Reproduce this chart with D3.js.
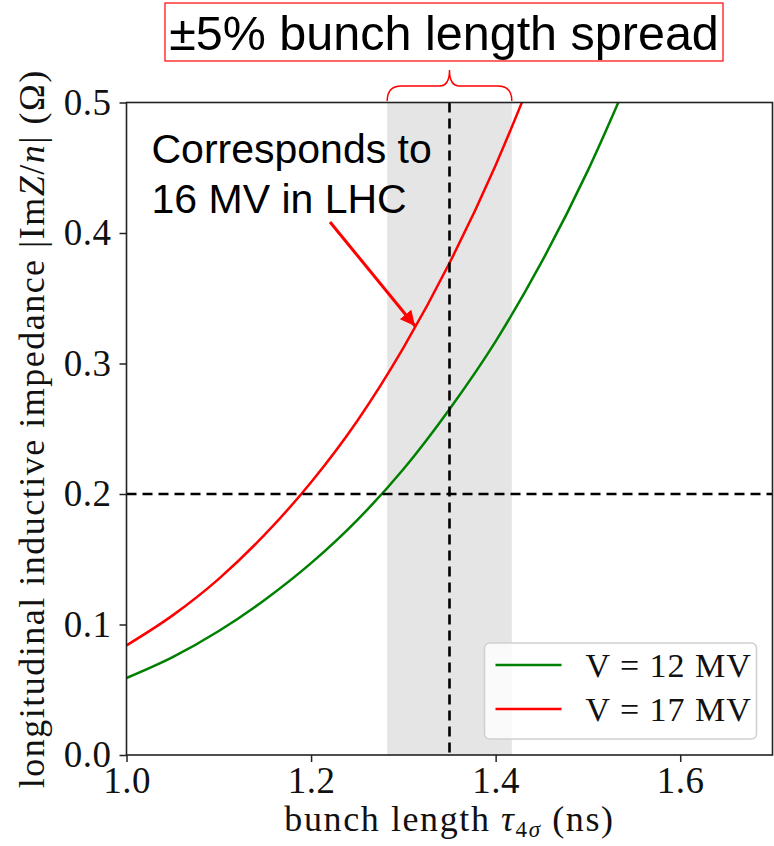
<!DOCTYPE html>
<html>
<head>
<meta charset="utf-8">
<script src="https://cdn.jsdelivr.net/npm/d3@7"></script>
<style>
  body { margin: 0; background: #fff; }
</style>
</head>
<body>
<script>
// bunch length samples (ns) and impedance (Ohm)
var tau      = [1.00, 1.05, 1.10, 1.15, 1.20, 1.25, 1.30, 1.35, 1.40, 1.45, 1.50, 1.55];
var imp12MV  = [0.059, 0.075, 0.095, 0.119, 0.147, 0.180, 0.219, 0.265, 0.317, 0.378, 0.448, 0.528];
var imp17MV  = [0.084, 0.107, 0.135, 0.169, 0.209, 0.256, 0.312, 0.377, 0.452, 0.538, null, null];
var seriesNames = ["V = 12 MV", "V = 17 MV"];
var seriesColors = ["#008000", "#ff0000"];
var xTicks = [1.0, 1.2, 1.4, 1.6];
var yTicks = [0.0, 0.1, 0.2, 0.3, 0.4, 0.5];
var nominalTau = 1.35, spread = 0.05, impLimit = 0.2;

var SERIF = "Liberation Serif", SANS = "Liberation Sans";

var W = 774, H = 846;
var margin = {top: 102.5, right: 1.5, bottom: 91, left: 126.5},
    width = W - margin.left - margin.right,
    height = H - margin.top - margin.bottom;

var x = d3.scaleLinear().domain([1.0, 1.7]).range([0, width]);
var y = d3.scaleLinear().domain([0, 0.5]).range([height, 0]);

var root = d3.select("body").append("svg")
    .attr("width", W)
    .attr("height", H)
    .attr("font-family", SERIF);

var svg = root.append("g")
    .attr("transform", "translate(" + margin.left + "," + margin.top + ")");

svg.append("clipPath").attr("id", "plotclip")
  .append("rect").attr("width", width).attr("height", height);

// +-5% band
svg.append("rect")
    .attr("x", x(nominalTau * (1 - spread)))
    .attr("width", x(nominalTau * (1 + spread)) - x(nominalTau * (1 - spread)))
    .attr("y", 0)
    .attr("height", height)
    .attr("fill", "#e5e5e5");

var line = d3.line()
    .defined(function(d) { return d[1] != null; })
    .x(function(d) { return x(d[0]); })
    .y(function(d) { return y(d[1]); })
    .curve(d3.curveMonotoneX);

[imp12MV, imp17MV].forEach(function(vals, i) {
  svg.append("path")
      .datum(tau.map(function(t, j) { return [t, vals[j]]; }))
      .attr("clip-path", "url(#plotclip)")
      .attr("fill", "none")
      .attr("stroke", seriesColors[i])
      .attr("stroke-width", 2.5)
      .attr("d", line);
});

// dashed guides
svg.append("line")
    .attr("x1", 0).attr("x2", width)
    .attr("y1", y(impLimit)).attr("y2", y(impLimit))
    .attr("stroke", "#000").attr("stroke-width", 2.6)
    .attr("stroke-dasharray", "10,6");
svg.append("line")
    .attr("x1", x(nominalTau)).attr("x2", x(nominalTau))
    .attr("y1", 0).attr("y2", height)
    .attr("stroke", "#000").attr("stroke-width", 2.6)
    .attr("stroke-dasharray", "10,6");

// axes
var xAxis = svg.append("g")
    .attr("transform", "translate(0," + height + ")")
    .call(d3.axisBottom(x).tickValues(xTicks).tickSize(7).tickPadding(5)
          .tickFormat(d3.format(".1f")));
var yAxis = svg.append("g")
    .call(d3.axisLeft(y).tickValues(yTicks).tickSize(7).tickPadding(8)
          .tickFormat(d3.format(".1f")));
[xAxis, yAxis].forEach(function(a) {
  a.attr("font-family", SERIF);
  a.select(".domain").remove();
  a.selectAll("line").attr("stroke", "#222").attr("stroke-width", 1.5);
  a.selectAll("text")
      .attr("font-size", "37px").attr("letter-spacing", "0.5px").attr("fill", "#111");
});

svg.append("rect")
    .attr("width", width).attr("height", height)
    .attr("fill", "none").attr("stroke", "#222").attr("stroke-width", 1.6);

// axis titles
var xLab = svg.append("text")
    .attr("x", width / 2)
    .attr("y", height + 76)
    .attr("font-size", "36px")
    .attr("letter-spacing", "1.6px")
    .attr("text-anchor", "middle")
    .attr("fill", "#111");
xLab.append("tspan").text("bunch length ");
xLab.append("tspan").attr("font-style", "italic").text("τ");
xLab.append("tspan").attr("font-size", "23px").attr("dy", 6).text("4");
xLab.append("tspan").attr("font-size", "23px").attr("font-style", "italic").text("σ");
xLab.append("tspan").attr("dy", -6).text(" (ns)");

var yLab = svg.append("text")
    .attr("transform", "rotate(-90)")
    .attr("x", -height / 2)
    .attr("y", -margin.left + 44)
    .attr("font-size", "36px")
    .attr("letter-spacing", "1.5px")
    .attr("text-anchor", "middle")
    .attr("fill", "#111");
yLab.append("tspan").text("longitudinal inductive impedance |Im");
yLab.append("tspan").attr("font-style", "italic").text("Z");
yLab.append("tspan").text("/");
yLab.append("tspan").attr("font-style", "italic").text("n");
yLab.append("tspan").text("| (Ω)");

// legend
var leg = svg.append("g").attr("transform", "translate(" + (width - 288) + "," + (height - 112) + ")");
leg.append("rect")
    .attr("width", 272).attr("height", 96).attr("rx", 5)
    .attr("fill", "#fff").attr("fill-opacity", 0.8)
    .attr("stroke", "#d0d0d0").attr("stroke-width", 1.5);
seriesNames.forEach(function(name, i) {
  var ly = 22 + i * 44;
  leg.append("line")
      .attr("x1", 11).attr("x2", 77).attr("y1", ly).attr("y2", ly)
      .attr("stroke", seriesColors[i]).attr("stroke-width", 2.5);
  leg.append("text")
      .attr("x", 101).attr("y", ly + 12)
      .attr("font-size", "34px").attr("letter-spacing", "1px").attr("fill", "#111")
      .text(name);
});

// annotations (sans, like the slide overlay)
var note = svg.append("text")
    .attr("font-family", SANS)
    .attr("font-size", "41px")
    .attr("fill", "#000");
note.append("tspan").attr("x", 25).attr("y", 60).text("Corresponds to");
note.append("tspan").attr("x", 25).attr("y", 110).text("16 MV in LHC");

root.append("defs").append("marker")
    .attr("id", "arrowhead")
    .attr("viewBox", "0 0 10 10")
    .attr("refX", 10).attr("refY", 5)
    .attr("markerWidth", 5).attr("markerHeight", 5)
    .attr("orient", "auto")
  .append("path").attr("d", "M0,0 L10,5 L0,10 z").attr("fill", "#ff0000");

svg.append("line")
    .attr("x1", 330 - margin.left).attr("y1", 222 - margin.top)
    .attr("x2", 415 - margin.left).attr("y2", 326 - margin.top)
    .attr("stroke", "#ff0000").attr("stroke-width", 3)
    .attr("marker-end", "url(#arrowhead)");

// title box and brace above the band
root.append("rect")
    .attr("x", 165).attr("y", 3).attr("width", 558).attr("height", 58)
    .attr("fill", "none").attr("stroke", "#ff0000").attr("stroke-width", 1.2);
root.append("text")
    .attr("x", 444).attr("y", 50)
    .attr("text-anchor", "middle")
    .attr("font-family", SANS)
    .attr("font-size", "48.5px")
    .attr("fill", "#000")
    .text("±5% bunch length spread");

var bx0 = margin.left + x(nominalTau * (1 - spread)),
    bx1 = margin.left + x(nominalTau * (1 + spread)),
    bxm = margin.left + x(nominalTau);
var brace = d3.path();
brace.moveTo(bx0, 101);
brace.quadraticCurveTo(bx0, 86, bx0 + 14, 86);
brace.lineTo(bxm - 10, 86);
brace.quadraticCurveTo(bxm, 86, bxm, 70);
brace.quadraticCurveTo(bxm, 86, bxm + 10, 86);
brace.lineTo(bx1 - 14, 86);
brace.quadraticCurveTo(bx1, 86, bx1, 101);
root.append("path")
    .attr("d", brace.toString())
    .attr("fill", "none").attr("stroke", "#ff0000").attr("stroke-width", 1.5);
</script>
</body>
</html>
